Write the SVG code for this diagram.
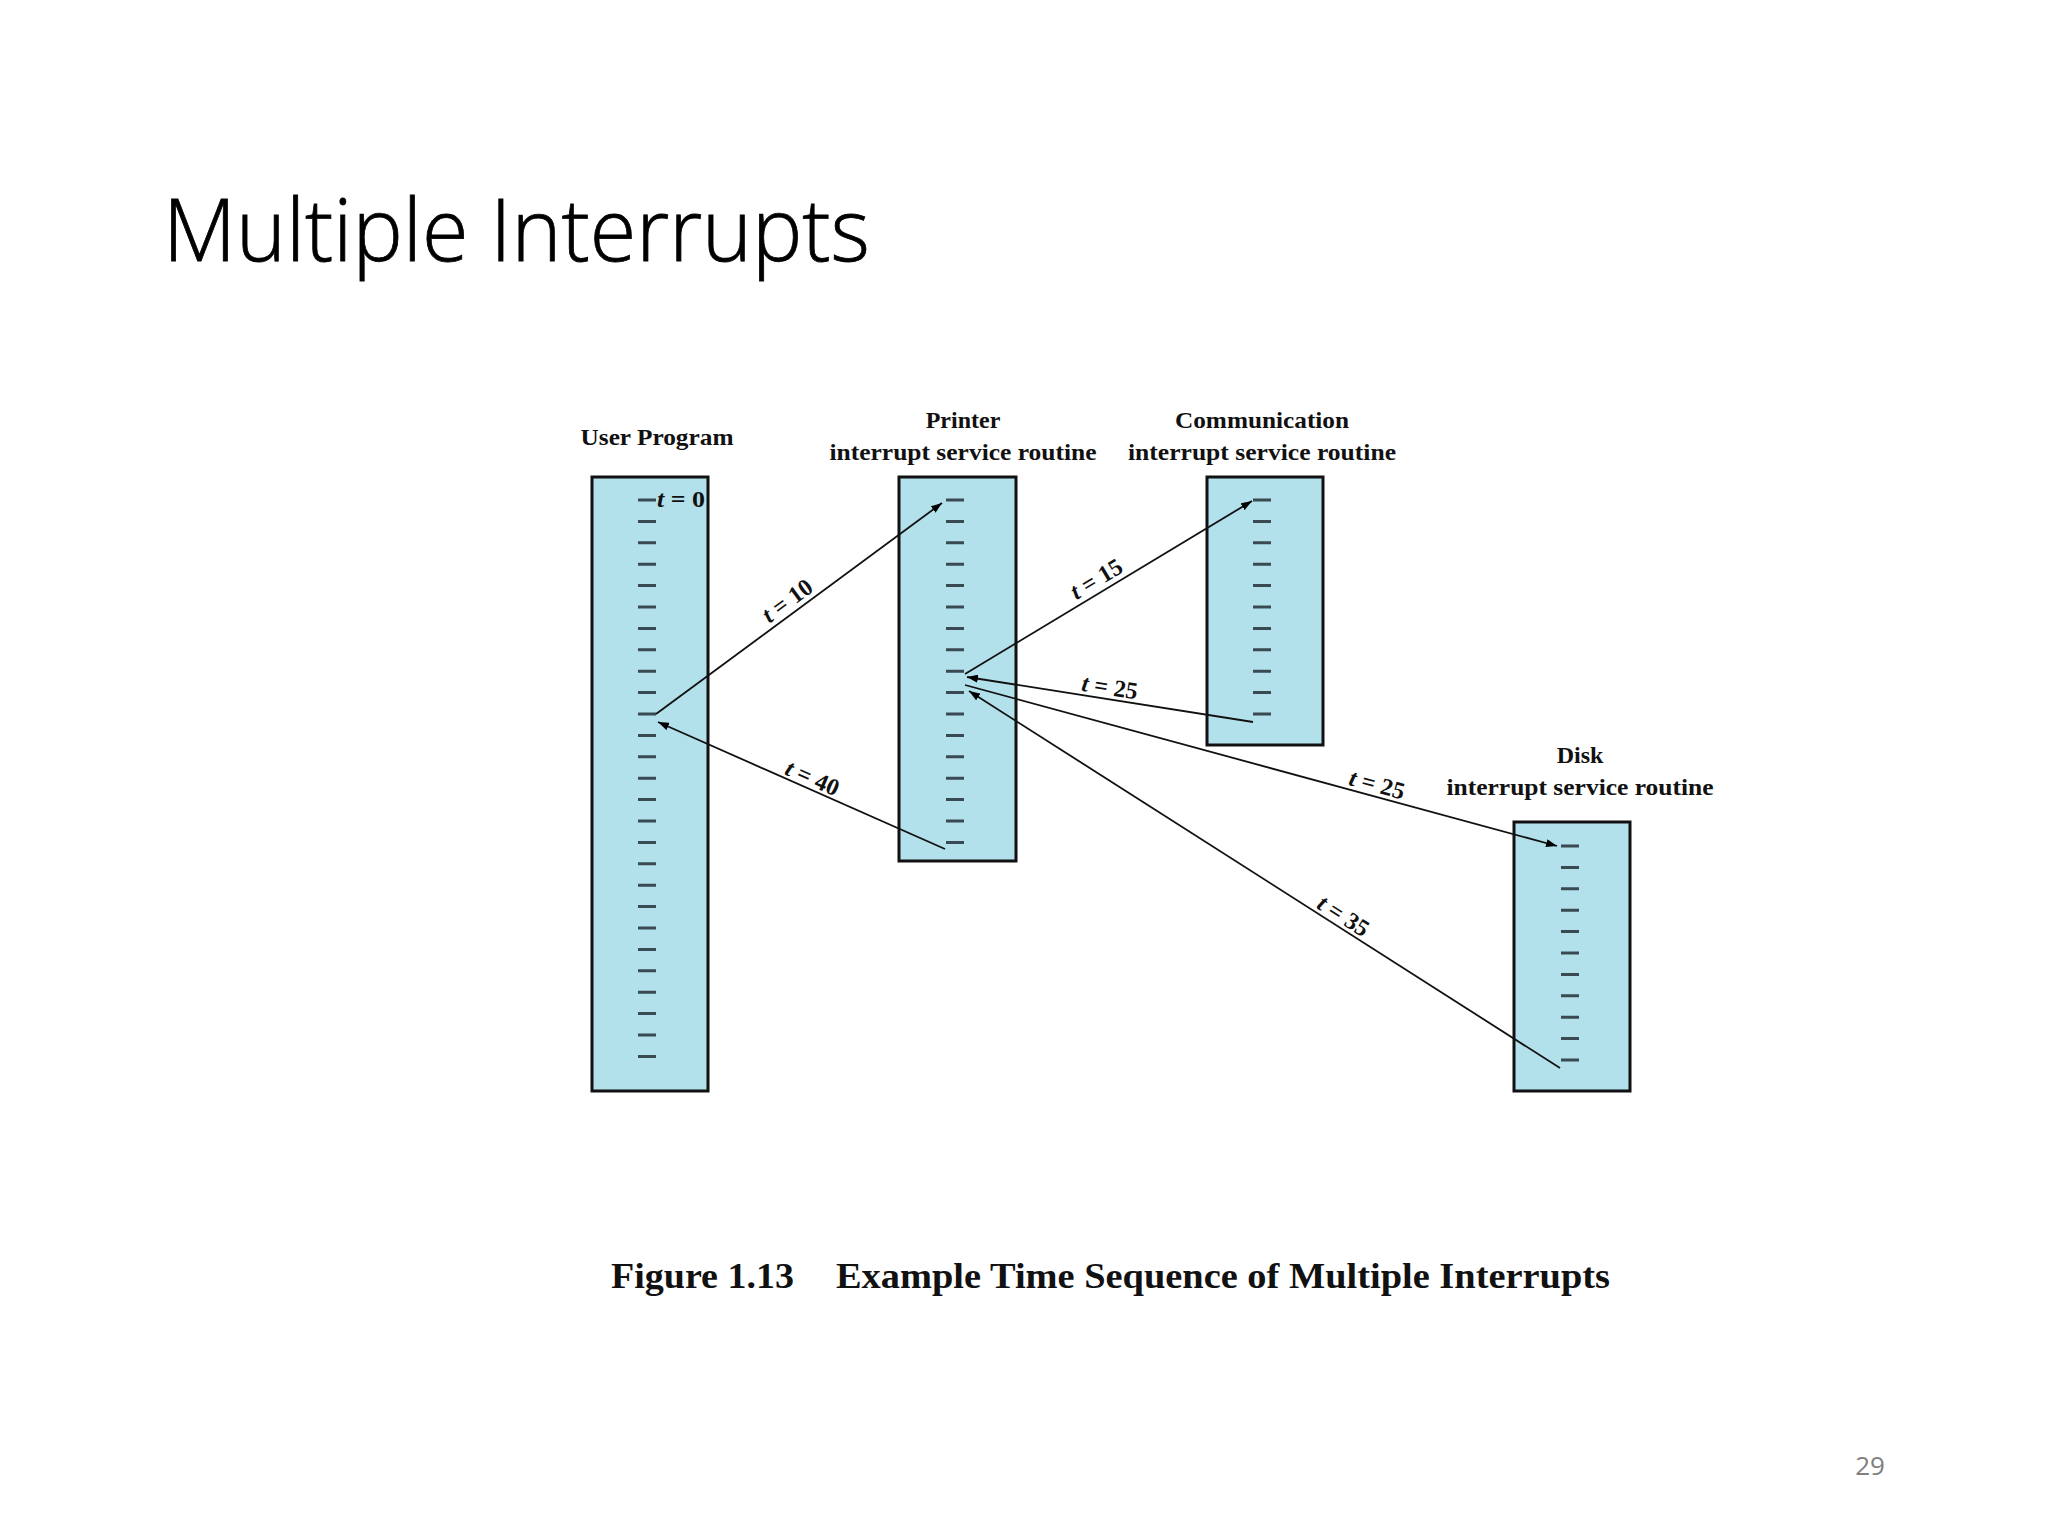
<svg xmlns="http://www.w3.org/2000/svg" width="2048" height="1536" viewBox="0 0 2048 1536">
<defs>
<marker id="ah" markerUnits="userSpaceOnUse" markerWidth="11" markerHeight="8" refX="11" refY="4" orient="auto"><path d="M0,0 L11,4 L0,8 z" fill="#000"/></marker>
</defs>
<style>
.box{fill:#b2e1ec;stroke:#111;stroke-width:3}
.tick{stroke:#3a4a52;stroke-width:3}
.hd{font-family:"Liberation Serif","Times New Roman",serif;font-weight:bold;font-size:24px;fill:#111;text-anchor:middle}
.lb{font-family:"Liberation Serif","Times New Roman",serif;font-weight:bold;font-size:24px;fill:#111;text-anchor:middle}
.lb .it{font-style:italic}
.arr{stroke:#111;stroke-width:1.8;fill:none;marker-end:url(#ah)}
</style>
<rect width="2048" height="1536" fill="#fff"/>
<text x="163" y="261" font-family="'Open Sans','Noto Sans',sans-serif" font-weight="300" font-size="86" fill="#000" stroke="#000" stroke-width="0.8" textLength="707" lengthAdjust="spacingAndGlyphs">Multiple Interrupts</text>

<g id="user">
<text class="hd" x="657" y="445" textLength="153" lengthAdjust="spacingAndGlyphs">User Program</text>
<rect class="box" x="592" y="477" width="116" height="614"/>
<g class="tick">
<path d="M638,500h18M638,521.4h18M638,542.8h18M638,564.2h18M638,585.6h18M638,607h18M638,628.4h18M638,649.8h18M638,671.2h18M638,692.6h18M638,714h18M638,735.4h18M638,756.8h18M638,778.2h18M638,799.6h18M638,821h18M638,842.4h18M638,863.8h18M638,885.2h18M638,906.6h18M638,928h18M638,949.4h18M638,970.8h18M638,992.2h18M638,1013.6h18M638,1035h18M638,1056.4h18"/>
</g>
<text class="lb" x="657" y="507" style="text-anchor:start" textLength="48" lengthAdjust="spacingAndGlyphs"><tspan class="it">t</tspan> = 0</text>
</g>

<g id="printer">
<text class="hd" x="963" y="428">Printer</text>
<text class="hd" x="963" y="460" textLength="267" lengthAdjust="spacingAndGlyphs">interrupt service routine</text>
<rect class="box" x="899" y="477" width="117" height="384"/>
<g class="tick">
<path d="M946,500h18M946,521.4h18M946,542.8h18M946,564.2h18M946,585.6h18M946,607h18M946,628.4h18M946,649.8h18M946,671.2h18M946,692.6h18M946,714h18M946,735.4h18M946,756.8h18M946,778.2h18M946,799.6h18M946,821h18M946,842.4h18"/>
</g>
</g>

<g id="communication">
<text class="hd" x="1262" y="428" textLength="174" lengthAdjust="spacingAndGlyphs">Communication</text>
<text class="hd" x="1262" y="460" textLength="268" lengthAdjust="spacingAndGlyphs">interrupt service routine</text>
<rect class="box" x="1207" y="477" width="116" height="268"/>
<g class="tick">
<path d="M1253,500h18M1253,521.4h18M1253,542.8h18M1253,564.2h18M1253,585.6h18M1253,607h18M1253,628.4h18M1253,649.8h18M1253,671.2h18M1253,692.6h18M1253,714h18"/>
</g>
</g>

<g id="disk">
<text class="hd" x="1580" y="763">Disk</text>
<text class="hd" x="1580" y="795" textLength="267" lengthAdjust="spacingAndGlyphs">interrupt service routine</text>
<rect class="box" x="1514" y="822" width="116" height="269"/>
<g class="tick">
<path d="M1561,846h18M1561,867.4h18M1561,888.8h18M1561,910.2h18M1561,931.6h18M1561,953h18M1561,974.4h18M1561,995.8h18M1561,1017.2h18M1561,1038.6h18M1561,1060h18"/>
</g>
</g>

<g id="connectors">
<line class="arr" x1="656" y1="714" x2="942" y2="503"/>
<line class="arr" x1="945" y1="849" x2="658" y2="722"/>
<line class="arr" x1="965" y1="674" x2="1252" y2="501"/>
<line class="arr" x1="1253" y1="722" x2="967" y2="677"/>
<line class="arr" x1="965" y1="685" x2="1557" y2="846"/>
<line class="arr" x1="1560" y1="1068" x2="969" y2="691"/>
<text class="lb" transform="translate(795,611) rotate(-36.4)" y="-5"><tspan class="it">t</tspan> = 10</text>
<text class="lb" transform="translate(808,788) rotate(23.8)" y="-3"><tspan class="it">t</tspan> = 40</text>
<text class="lb" transform="translate(1103,590) rotate(-31.1)" y="-5"><tspan class="it">t</tspan> = 15</text>
<text class="lb" transform="translate(1108,699) rotate(8.9)" y="-4"><tspan class="it">t</tspan> = 25</text>
<text class="lb" transform="translate(1374,796) rotate(15.2)" y="-4"><tspan class="it">t</tspan> = 25</text>
<text class="lb" transform="translate(1337,926) rotate(32.5)" y="-4"><tspan class="it">t</tspan> = 35</text>
</g>

<text x="611" y="1288" font-family="'Liberation Serif','Times New Roman',serif" font-weight="bold" font-size="36" fill="#111" textLength="183" lengthAdjust="spacingAndGlyphs">Figure 1.13</text>
<text x="836" y="1288" font-family="'Liberation Serif','Times New Roman',serif" font-weight="bold" font-size="36" fill="#111" textLength="774" lengthAdjust="spacingAndGlyphs">Example Time Sequence of Multiple Interrupts</text>
<text x="1870" y="1475" font-family="'Open Sans','Noto Sans',sans-serif" font-size="26" fill="#7f7f7f" text-anchor="middle">29</text>
</svg>
